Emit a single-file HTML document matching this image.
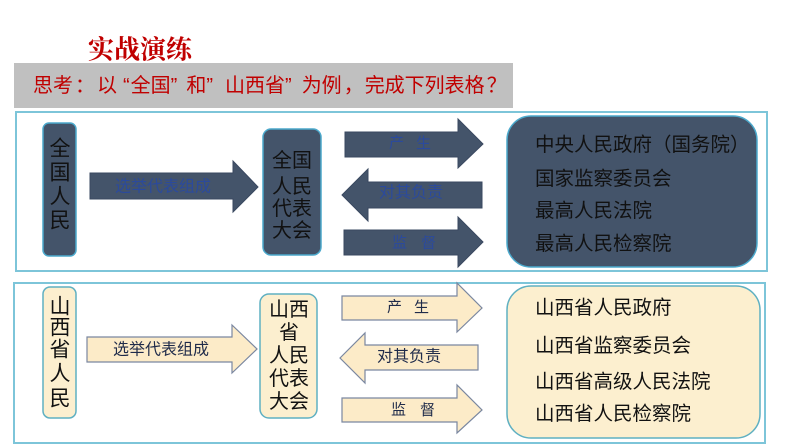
<!DOCTYPE html>
<html>
<head>
<meta charset="utf-8">
<style>
  html,body{margin:0;padding:0;background:#fff;}
  body{width:794px;height:447px;overflow:hidden;}
  svg{display:block;}
  .s{font-family:"Liberation Sans","Noto Sans CJK SC",sans-serif;}
  .serif{font-family:"Liberation Serif","Noto Serif CJK SC",serif;}
</style>
</head>
<body>
<svg width="794" height="447" viewBox="0 0 794 447" xmlns="http://www.w3.org/2000/svg">
  <!-- Title -->
  <text class="serif" x="88" y="50" font-size="26" font-weight="bold" fill="#C00000" dominant-baseline="central">实战演练</text>

  <!-- Gray bar -->
  <rect x="14" y="63" width="499" height="45" fill="#C0C0C0"/>
  <text class="s" x="33" y="86" font-size="20" fill="#C00000" dominant-baseline="central">思考<tspan dx="2">：</tspan><tspan dx="2">以</tspan><tspan dx="6">“</tspan><tspan dx="1">全国</tspan><tspan>”</tspan><tspan dx="9">和</tspan><tspan>”</tspan><tspan dx="12">山西省</tspan><tspan>”</tspan><tspan dx="10">为例</tspan><tspan dx="2">，</tspan><tspan dx="1">完成下列表格</tspan><tspan dx="2">？</tspan></text>

  <!-- ===== Top section ===== -->
  <rect x="16" y="112" width="751" height="159" fill="#fff" stroke="#7DC5D9" stroke-width="2"/>

  <!-- 全国人民 -->
  <rect x="43" y="123" width="33" height="133" rx="6" fill="#44546A" stroke="#4BA9CC" stroke-width="1.5"/>
  <g class="s" font-size="21" fill="#111" text-anchor="middle" dominant-baseline="central">
    <text x="60" y="149">全</text>
    <text x="60" y="173">国</text>
    <text x="60" y="197">人</text>
    <text x="60" y="221">民</text>
  </g>

  <!-- arrow 选举代表组成 -->
  <polygon points="90,173 233,173 233,161 258,187 233,212 233,199 90,199" fill="#44546A" stroke="#3A4860" stroke-width="1"/>
  <text class="s" x="163" y="187" font-size="16" fill="#2B4A9C" text-anchor="middle" dominant-baseline="central">选举代表组成</text>

  <!-- 全国人民代表大会 -->
  <rect x="263" y="129" width="58" height="126" rx="8" fill="#44546A" stroke="#4BA9CC" stroke-width="1.5"/>
  <g class="s" font-size="20" fill="#111" text-anchor="middle" dominant-baseline="central">
    <text x="292" y="161">全国</text>
    <text x="292" y="187">人民</text>
    <text x="292" y="209">代表</text>
    <text x="292" y="231">大会</text>
  </g>

  <!-- arrows right side top -->
  <polygon points="345,132 458,132 458,119 483,144 458,168 458,157 345,157" fill="#44546A" stroke="#3A4860" stroke-width="1"/>
  <text class="s" x="410" y="143" font-size="15" fill="#2B4A9C" text-anchor="middle" dominant-baseline="central">产<tspan dx="12">生</tspan></text>

  <polygon points="342,195 368,169 368,182 482,182 482,208 368,208 368,221" fill="#44546A" stroke="#3A4860" stroke-width="1"/>
  <text class="s" x="411" y="193" font-size="16" fill="#2B4A9C" text-anchor="middle" dominant-baseline="central">对其负责</text>

  <polygon points="344,230 458,230 458,217 483,242 458,267 458,255 344,255" fill="#44546A" stroke="#3A4860" stroke-width="1"/>
  <text class="s" x="414" y="243" font-size="15" fill="#2B4A9C" text-anchor="middle" dominant-baseline="central">监<tspan dx="14">督</tspan></text>

  <!-- big dark box -->
  <rect x="507" y="116" width="250" height="151" rx="24" fill="#44546A" stroke="#4BA9CC" stroke-width="1.5"/>
  <g class="s" font-size="19.5" fill="#111" dominant-baseline="central">
    <text x="535" y="145">中央人民政府（国务院）</text>
    <text x="535" y="179">国家监察委员会</text>
    <text x="535" y="211">最高人民法院</text>
    <text x="535" y="244">最高人民检察院</text>
  </g>

  <!-- ===== Bottom section ===== -->
  <rect x="14" y="283" width="751" height="160" fill="#fff" stroke="#7DC5D9" stroke-width="2"/>

  <!-- 山西省人民 -->
  <rect x="43" y="287" width="33" height="131" rx="7" fill="#FCEFCF" stroke="#5FB0C2" stroke-width="1.5"/>
  <g class="s" font-size="21" fill="#111" text-anchor="middle" dominant-baseline="central">
    <text x="60" y="307">山</text>
    <text x="60" y="328">西</text>
    <text x="60" y="350">省</text>
    <text x="60" y="374">人</text>
    <text x="60" y="399">民</text>
  </g>

  <!-- arrow 选举代表组成 bottom -->
  <polygon points="87,337 232,337 232,325 257,349 232,373 232,362 87,362" fill="#FCEBC8" stroke="#7A87A0" stroke-width="1.2"/>
  <text class="s" x="161" y="350" font-size="16" fill="#1F2B4A" text-anchor="middle" dominant-baseline="central">选举代表组成</text>

  <!-- 山西省人民代表大会 -->
  <rect x="260" y="294" width="57" height="124" rx="9" fill="#FCEFCF" stroke="#5FB0C2" stroke-width="1.5"/>
  <g class="s" font-size="20" fill="#111" text-anchor="middle" dominant-baseline="central">
    <text x="289" y="310">山西</text>
    <text x="289" y="333">省</text>
    <text x="289" y="356">人民</text>
    <text x="289" y="379">代表</text>
    <text x="289" y="402">大会</text>
  </g>

  <!-- arrows right side bottom -->
  <polygon points="342,296 457,296 457,283 482,308 457,332 457,320 342,320" fill="#FCEBC8" stroke="#7A87A0" stroke-width="1.2"/>
  <text class="s" x="408" y="307" font-size="15" fill="#1F2B4A" text-anchor="middle" dominant-baseline="central">产<tspan dx="12">生</tspan></text>

  <polygon points="340,358 365,333 365,345 478,345 478,370 365,370 365,383" fill="#FCEBC8" stroke="#7A87A0" stroke-width="1.2"/>
  <text class="s" x="409" y="357" font-size="16" fill="#1F2B4A" text-anchor="middle" dominant-baseline="central">对其负责</text>

  <polygon points="342,398 457,398 457,385 482,410 457,433 457,422 342,422" fill="#FCEBC8" stroke="#7A87A0" stroke-width="1.2"/>
  <text class="s" x="413" y="410" font-size="15" fill="#1F2B4A" text-anchor="middle" dominant-baseline="central">监<tspan dx="14">督</tspan></text>

  <!-- big cream box -->
  <rect x="507" y="286" width="253" height="152" rx="24" fill="#FCEFCF" stroke="#5FB0C2" stroke-width="1.5"/>
  <g class="s" font-size="19.5" fill="#111" dominant-baseline="central">
    <text x="535" y="308">山西省人民政府</text>
    <text x="535" y="346">山西省监察委员会</text>
    <text x="535" y="382">山西省高级人民法院</text>
    <text x="535" y="414">山西省人民检察院</text>
  </g>
</svg>
</body>
</html>
